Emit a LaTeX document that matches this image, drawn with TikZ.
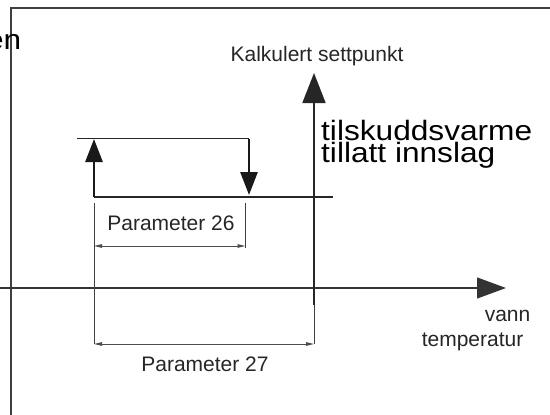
\documentclass[tikz,border=0pt]{standalone}
\usepackage{fontspec}
\setmainfont{Liberation Sans}
\usetikzlibrary{arrows.meta}
\newcommand{\wideT}[1]{\scalebox{1.13}[1]{#1}}
\begin{document}
\begin{tikzpicture}[x=1pt,y=-1pt,
  frameline/.style={draw=black!75, line width=1.6pt},
  haxis/.style={draw=black!80, line width=1.2pt, -{Triangle[length=29pt,width=21pt]}},
  vaxis/.style={draw=black!85, line width=1.8pt, -{Triangle[length=30pt,width=23pt]}},
  heavyarrow/.style={draw=black!90, line width=2.8pt, -{Triangle[length=23pt,width=17pt]}},
  heavyline/.style={draw=black!85, line width=1.8pt},
  extline/.style={draw=black!75, line width=0.9pt},
  dimline/.style={draw=black!70, line width=0.9pt, {Triangle[length=8pt,width=3.5pt]}-{Triangle[length=8pt,width=3.5pt]}},
  lbl/.style={font=\fontsize{21}{24}\selectfont, text=black!85, inner sep=0pt},
  biglbl/.style={font=\fontsize{28}{21.5}\selectfont, text=black, inner sep=0pt, align=left}
]
\useasboundingbox (0,0) rectangle (550,415);
\clip (0,0) rectangle (550,415);

% frame
\coordinate (fB) at (11,420);
\coordinate (fC) at (11,8);
\coordinate (fR) at (556,8);
\draw[frameline] (fB) -- (fC) -- (fR);

% clipped text at left
\node[biglbl, anchor=base east] (en) at (21.5,49) {\wideT{en}};

% axes
\coordinate (hL) at (0,288);
\coordinate (hR) at (506,288);
\draw[haxis] (hL) -- (hR);
\coordinate (vB) at (314,305);
\coordinate (vT) at (314,73);
\draw[vaxis] (vB) -- (vT);

% heavy hysteresis figure
\coordinate (aB) at (94,197);
\coordinate (aT) at (94,139);
\coordinate (tL) at (77,138.5);
\coordinate (tR) at (249,138.5);
\coordinate (dB) at (249,195);
\coordinate (bR) at (333,197);
\draw[heavyline] (tL) -- (tR);
\draw[heavyline] (aB) -- (bR);
\draw[heavyarrow] (aB) -- (aT);
\draw[heavyarrow] (tR) -- (dB);

% dimensions
\coordinate (e1t) at (94,203);
\coordinate (e1b) at (94,344);
\coordinate (e2t) at (245.5,203);
\coordinate (e2b) at (245.5,248);
\coordinate (e3b) at (314,344);
\coordinate (d26L) at (94,246);
\coordinate (d26R) at (245.5,246);
\draw[extline] (e1t) -- (e1b);
\draw[extline] (e2t) -- (e2b);
\draw[extline] (vB) -- (e3b);
\draw[dimline] (d26L) -- (d26R);
\draw[dimline] (e1b) -- (e3b);

% labels
\node[lbl, anchor=base] (kal) at (317,61.5) {Kalkulert settpunkt};
\node[biglbl, anchor=base west] (tils) at (321,162) {\wideT{tilskuddsvarme}\\\wideT{tillatt innslag}};
\node[lbl, anchor=base] (p26) at (171,230.7) {Parameter 26};
\node[lbl, anchor=base] (p27) at (205,371.7) {Parameter 27};
\node[lbl, anchor=base east] (vann) at (530.5,321.5) {vann};
\node[lbl, anchor=base east] (temp) at (523.5,346.5) {temperatur};
\end{tikzpicture}
\end{document}
